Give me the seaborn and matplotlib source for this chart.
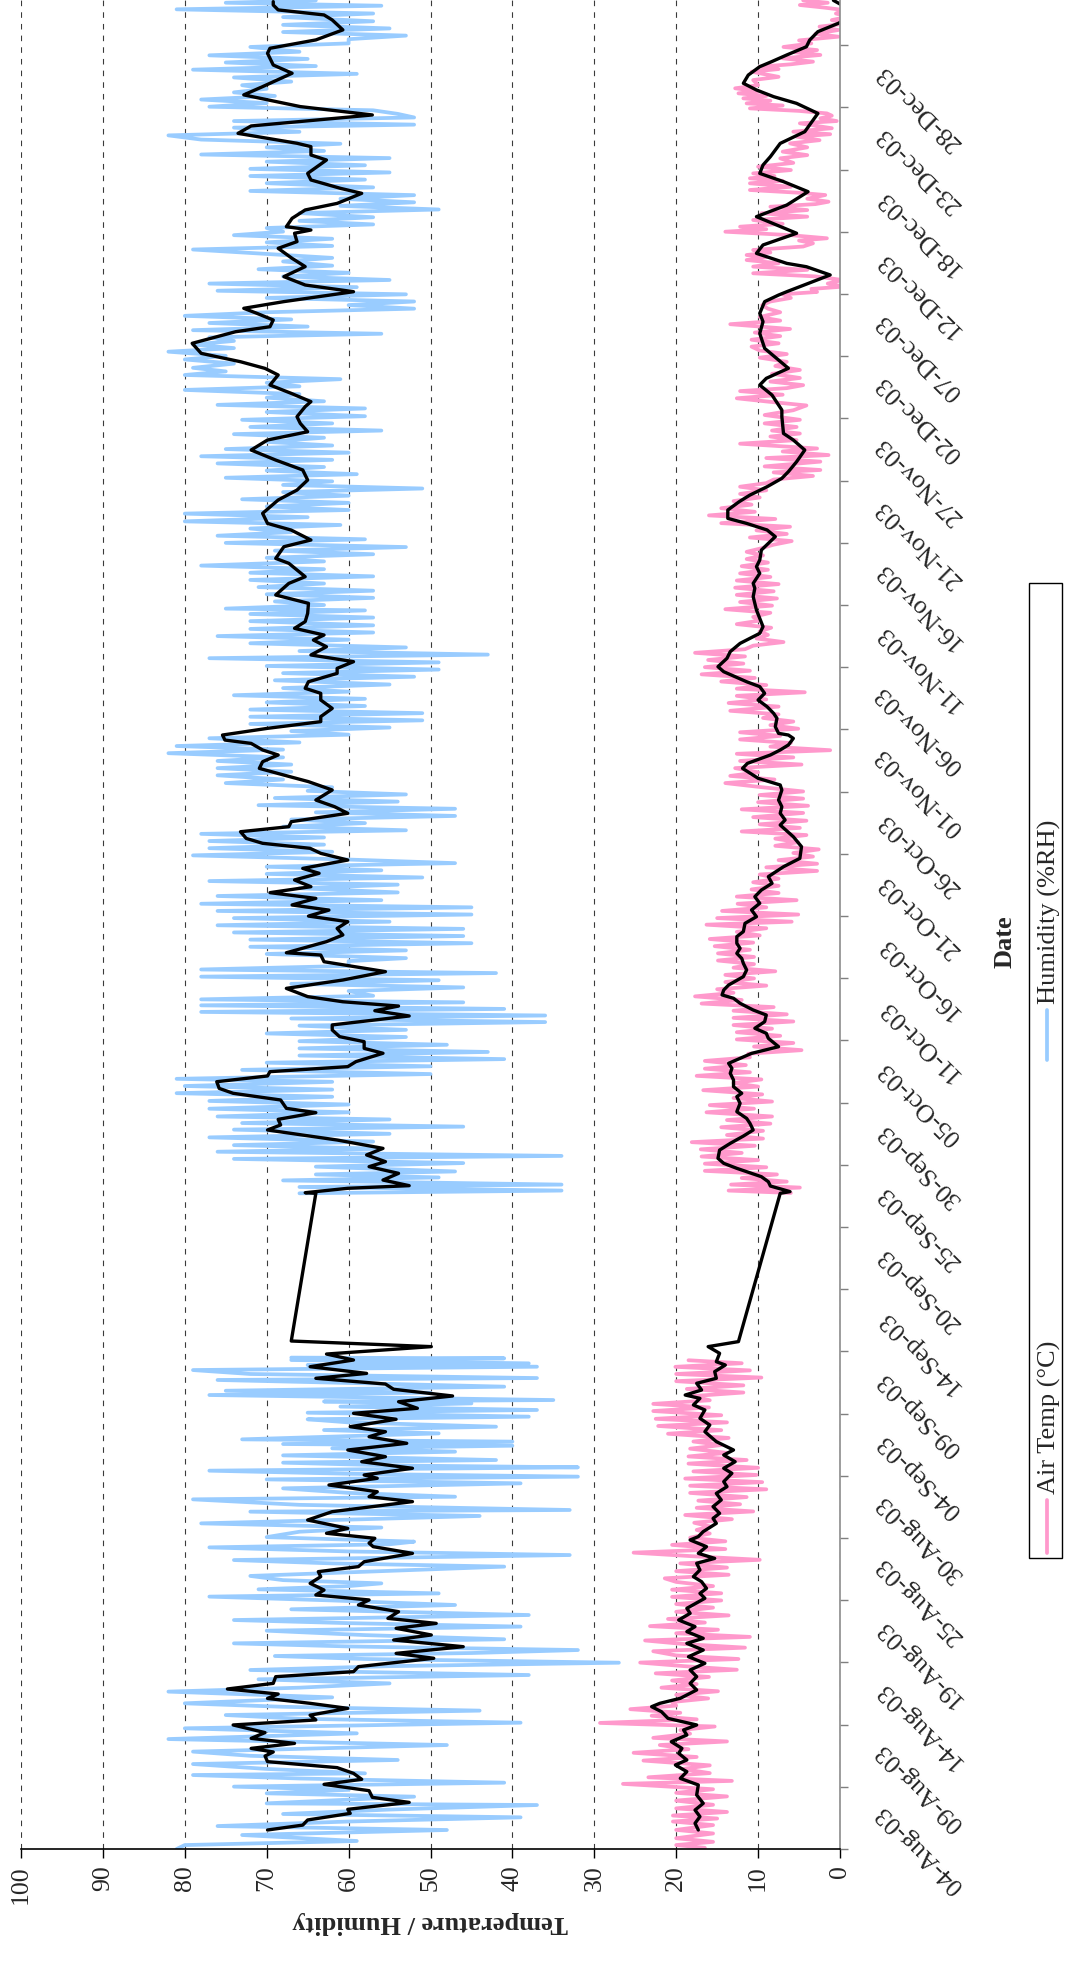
import numpy as np
import pandas as pd
import matplotlib
matplotlib.use("Agg")
import matplotlib.pyplot as plt
import seaborn as sns
from matplotlib.lines import Line2D
from matplotlib.patches import Rectangle

# ---------------------------------------------------------------------------
# Logger readings, (day since start of record, value).
# Record starts 04-Aug-03; the logger was off between about day 41 and day 55.
# ---------------------------------------------------------------------------
hum_before = [
    (0.0, 81), (0.33, 80), (0.67, 59), (1.17, 73), (1.59, 48), (1.92, 76), (2.3, 60), (2.65, 39),
    (2.93, 68), (3.3, 55), (3.68, 37), (3.82, 70), (4.38, 52), (4.66, 70), (4.95, 60), (5.22, 74),
    (5.55, 41), (5.9, 66), (6.19, 79), (6.33, 58), (6.7, 70), (7.11, 79), (7.45, 54), (7.8, 72),
    (8.15, 79), (8.7, 48), (9.2, 82), (9.68, 59), (10.1, 80), (10.57, 39), (10.9, 66), (11.21, 75),
    (11.58, 44), (11.9, 68), (12.19, 80), (12.69, 62), (13.17, 82), (13.5, 66), (13.86, 55),
    (14.2, 71), (14.56, 38), (14.98, 72), (15.3, 55), (15.59, 27), (15.9, 58), (16.15, 69),
    (16.4, 45), (16.65, 32), (16.95, 60), (17.21, 74), (17.55, 41), (17.9, 58), (18.27, 70),
    (18.61, 39), (18.9, 60), (19.16, 74), (19.58, 38), (20.06, 67), (20.42, 47), (20.8, 62),
    (21.12, 77), (21.39, 49), (21.73, 71), (22.0, 60), (22.23, 56), (22.5, 68), (22.85, 72),
    (23.2, 58), (23.63, 41), (23.9, 62), (24.18, 74), (24.6, 33), (24.9, 60), (25.24, 77),
    (25.5, 55), (25.72, 52), (26.1, 70), (26.55, 66), (26.9, 56), (27.25, 78), (27.6, 58),
    (27.87, 44), (28.23, 72), (28.37, 33), (28.8, 66), (29.26, 79), (29.48, 47), (29.8, 60),
    (30.18, 68), (30.6, 39), (30.93, 70), (31.16, 32), (31.4, 60), (31.66, 77), (31.94, 32),
    (32.1, 55), (32.33, 68), (32.55, 42), (32.94, 68), (33.25, 47), (33.53, 62), (33.75, 40),
    (33.89, 68), (34.09, 40), (34.28, 73), (34.78, 49), (35.06, 63), (35.34, 42), (35.7, 60),
    (35.96, 65), (36.18, 38), (36.51, 65), (36.74, 37), (37.02, 61), (37.29, 45), (37.45, 63),
    (37.57, 35), (37.99, 77), (38.19, 50), (38.35, 75), (38.69, 41), (39.0, 60), (39.25, 76),
    (39.41, 37), (39.75, 72), (40.08, 79), (40.36, 37), (40.5, 65), (40.64, 38), (40.92, 67),
    (41.06, 41), (41.12, 67),
]

hum_after = [
    (54.87, 66), (55.1, 34), (55.4, 66), (55.6, 34), (55.95, 68), (56.2, 49), (56.45, 64),
    (56.7, 47), (57.1, 64), (57.4, 46), (57.75, 74), (58.0, 34), (58.35, 76), (58.6, 56),
    (58.9, 74), (59.2, 57), (59.55, 77), (59.85, 55), (60.2, 74), (60.45, 46), (60.75, 73),
    (61.05, 55), (61.3, 76), (61.65, 60), (61.95, 77), (62.3, 60), (62.6, 77), (62.95, 62),
    (63.25, 81), (63.55, 62), (63.85, 80), (64.2, 62), (64.45, 81), (64.85, 50), (65.2, 73),
    (65.5, 50), (65.8, 70), (66.1, 41), (66.4, 66), (66.7, 43), (67.0, 66), (67.3, 48),
    (67.6, 66), (67.95, 53), (68.25, 70), (68.55, 53), (68.9, 66), (69.2, 36), (69.5, 67),
    (69.75, 36), (70.05, 78), (70.3, 41), (70.6, 78), (70.85, 46), (71.1, 78), (71.4, 57),
    (71.8, 60), (72.1, 46), (72.4, 67), (72.7, 49), (73.0, 78), (73.3, 42), (73.6, 78),
    (73.9, 60), (74.3, 60), (74.55, 53), (74.9, 70), (75.2, 53), (75.5, 72), (75.8, 45),
    (76.1, 72), (76.4, 46), (76.7, 74), (77.0, 46), (77.3, 76), (77.6, 55),
    (77.9, 74), (78.2, 45), (78.5, 76), (78.8, 45), (79.1, 78), (79.4, 56), (79.75, 76),
    (80.05, 54), (80.4, 66), (80.7, 54), (81.0, 77), (81.3, 51), (81.6, 70), (81.9, 56),
    (82.2, 70), (82.5, 47), (82.8, 60), (83.15, 79), (83.45, 62), (83.75, 77), (84.05, 63),
    (84.35, 77), (84.65, 63), (84.95, 78), (85.25, 53), (85.55, 68), (85.85, 58), (86.15, 67),
    (86.45, 47), (86.75, 64), (87.05, 47), (87.35, 71), (87.65, 54), (87.95, 69), (88.25, 53),
    (88.55, 65), (88.85, 62), (89.2, 75), (89.5, 68), (89.85, 76), (90.15, 67), (90.45, 76),
    (90.75, 67), (91.05, 76), (91.35, 68), (91.7, 82), (92.0, 68), (92.3, 81), (92.6, 66),
    (92.95, 77), (93.25, 60), (93.55, 67), (93.85, 55), (94.15, 72), (94.45, 51), (94.75, 72),
    (95.05, 51), (95.35, 72), (95.65, 58), (95.95, 70), (96.25, 58), (96.55, 74), (96.85, 60),
    (97.15, 68), (97.45, 55), (97.8, 69), (98.1, 52), (98.4, 68), (98.7, 49), (99.0, 70),
    (99.3, 49), (99.65, 77), (99.95, 43), (100.25, 66), (100.55, 53), (100.9, 72), (101.2, 60),
    (101.5, 76), (101.8, 57), (102.1, 72), (102.4, 57), (102.75, 72), (103.05, 57), (103.35, 72),
    (103.65, 58),
    (103.8, 75), (104.1, 63), (104.4, 69), (104.7, 57), (105.0, 70), (105.3, 57), (105.6, 71),
    (105.9, 63), (106.2, 72), (106.5, 57), (106.8, 72), (107.1, 63), (107.4, 78), (107.75, 63),
    (108.05, 70), (108.35, 57), (108.65, 69), (108.95, 53), (109.3, 75), (109.6, 58), (109.9, 76),
    (110.2, 67), (110.5, 72), (110.8, 61), (111.1, 80), (111.45, 65), (111.75, 80), (112.05, 60),
    (112.35, 70), (112.65, 60), (112.95, 73), (113.25, 60), (113.55, 68), (113.85, 51),
    (114.15, 68), (114.45, 62), (114.75, 75), (115.05, 59), (115.35, 70), (115.65, 63),
    (115.95, 76), (116.25, 62), (116.55, 78), (116.85, 60), (117.15, 75), (117.45, 62),
    (117.75, 70), (118.1, 63), (118.4, 74), (118.7, 56), (119.0, 72), (119.3, 62), (119.6, 73),
    (119.9, 58), (120.25, 70), (120.55, 58), (120.85, 76), (121.15, 63), (121.45, 70),
    (121.75, 66), (122.1, 80), (122.4, 66), (122.7, 70), (123.0, 61), (123.35, 80), (123.65, 75),
    (123.95, 79), (124.3, 74), (124.65, 80), (124.95, 75), (125.3, 82), (125.6, 74), (125.9, 79),
    (126.2, 74), (126.5, 77), (126.8, 56), (127.1, 79), (127.4, 65), (127.7, 77), (128.0, 67),
    (128.3, 80), (128.6, 70), (128.9, 52), (129.2, 60), (129.5, 52),
    (129.8, 70), (130.1, 53), (130.4, 76), (130.7, 59), (131.0, 77), (131.3, 55), (131.6, 68),
    (131.9, 60), (132.2, 71), (132.5, 62), (132.85, 68), (133.15, 62), (133.85, 79), (134.15, 62),
    (134.45, 70), (134.75, 62), (135.05, 74), (135.35, 68), (135.65, 70), (135.95, 57),
    (136.25, 66), (136.55, 57), (136.9, 66), (137.2, 49), (137.5, 61), (137.8, 52), (138.1, 61),
    (138.4, 52), (138.75, 72), (139.05, 57), (139.4, 70), (139.7, 58), (140.0, 72), (140.3, 55),
    (140.6, 72), (140.9, 58), (141.2, 70), (141.5, 55), (141.8, 78), (142.1, 63), (142.4, 70),
    (142.7, 61), (143.05, 78), (143.4, 82), (143.7, 66), (144.05, 74), (144.3, 52), (144.6, 74),
    (144.9, 52), (145.2, 54), (145.5, 57), (145.8, 77), (146.1, 70), (146.4, 78), (146.7, 69),
    (147.0, 74), (147.3, 70), (147.6, 73), (147.9, 67), (148.25, 74), (148.55, 59), (148.9, 79),
    (149.2, 64), (149.5, 75), (149.8, 65), (150.1, 77), (150.4, 66), (150.8, 72), (151.1, 60),
    (151.45, 60), (151.75, 53), (152.05, 68), (152.35, 55), (152.65, 68), (152.95, 57),
    (153.3, 68), (153.6, 57), (153.95, 81), (154.25, 56), (154.5, 75), (154.7, 64),
]

temp_before = [
    (0.1, 16.5), (0.33, 20), (0.6, 15.5), (0.9, 20), (1.3, 15.5), (1.6, 20), (2.0, 15.5),
    (2.3, 20.4), (2.55, 15), (2.8, 20.4), (3.1, 13.8), (3.4, 20), (3.7, 15.5), (4.05, 20),
    (4.4, 13.8), (4.7, 20), (5.0, 15.5), (5.45, 26.5), (5.7, 13.2), (6.0, 23.4), (6.35, 15.9),
    (6.7, 19.2), (7.0, 15.9), (7.4, 24), (7.7, 17.5), (8.05, 25.2), (8.35, 18.5), (8.7, 22),
    (9.0, 13.8), (9.3, 22.8), (9.65, 18.3), (9.95, 19.5), (10.25, 15.3), (10.55, 29.3),
    (10.85, 17.5), (11.15, 23), (11.4, 19.5), (11.7, 25.6), (12.0, 20), (12.3, 20.5),
    (12.6, 16.1), (12.9, 20), (13.2, 14.9), (13.5, 21.8), (13.8, 17.5), (14.1, 20.5), (14.4, 16),
    (14.7, 22.5), (15.0, 12.6), (15.3, 19), (15.6, 24.4), (15.9, 12.4), (16.2, 20), (16.55, 22.8),
    (16.85, 11.6), (17.15, 19), (17.45, 23.8), (17.75, 11), (18.05, 20), (18.35, 14.9),
    (18.65, 23.2), (18.95, 16.5), (19.25, 21), (19.55, 13.6), (19.85, 20), (20.2, 15.5),
    (20.5, 20), (20.8, 14.5), (21.1, 20.5), (21.4, 14.5), (21.7, 20.5), (22.0, 15.5),
    (22.35, 20), (22.65, 21.4), (22.95, 13.6), (23.25, 20), (23.55, 13.8), (23.9, 19.5),
    (24.2, 9.8), (24.5, 18), (24.8, 25.2), (25.1, 14), (25.45, 20.5), (25.75, 14), (26.05, 18.3),
    (26.4, 15.9), (26.7, 17.5), (27.0, 15.9), (27.3, 17.8), (27.6, 13.2), (27.95, 18.9),
    (28.25, 10.6), (28.55, 17.5), (28.85, 12.2), (29.15, 17.3), (29.45, 11.4), (29.8, 18.3),
    (30.1, 9), (30.4, 18.3), (30.7, 9.5), (31.0, 18.9), (31.3, 10.2), (31.6, 17.9), (31.9, 10),
    (32.25, 18.5), (32.55, 11.4), (32.85, 18.5), (33.15, 13.8), (33.5, 18.3), (33.8, 14.5),
    (34.1, 17.9), (34.4, 13.6), (34.75, 21.0), (35.05, 14.5), (35.4, 22.2), (35.7, 13.8),
    (36.0, 22.5), (36.3, 14.5), (36.65, 22.8), (36.95, 16), (37.25, 22.8), (37.55, 15.9),
    (37.9, 18), (38.2, 11.8), (38.5, 18.7), (38.8, 11.8), (39.15, 20), (39.45, 9.6), (39.75, 20),
    (40.05, 11), (40.35, 20.1), (40.65, 12), (40.9, 18.5),
]

temp_after = [
    (54.9, 6), (55.1, 13.6), (55.35, 4.9), (55.6, 13.3), (55.85, 6.5), (56.15, 12), (56.45, 7.7),
    (56.75, 16.5), (57.05, 9), (57.35, 16.5), (57.65, 10), (57.95, 16.9), (58.25, 12),
    (58.55, 17), (58.85, 10.4), (59.15, 18.1), (59.45, 9.4), (59.75, 13.8), (60.1, 9.4),
    (60.4, 14.5), (60.7, 8.5), (61.0, 13.8), (61.3, 8.3), (61.65, 16.3), (61.95, 10.5),
    (62.25, 15.9), (62.55, 8.3), (62.85, 13), (63.15, 9.5), (63.5, 16.7), (63.8, 10), (64.1, 13),
    (64.4, 9.6), (64.7, 17.5), (65.0, 11), (65.3, 16.5), (65.6, 11.5), (65.95, 16.5), (66.25, 11),
    (66.55, 11.2), (66.85, 4.7), (67.15, 10.5), (67.45, 5.7), (67.75, 12.6), (68.05, 7.3),
    (68.35, 12.6), (68.65, 8.3), (68.95, 13), (69.25, 5.7), (69.55, 13), (69.85, 6.5), (70.15, 13),
    (70.45, 8.1), (70.75, 16.9), (71.05, 12), (71.35, 17.7), (71.65, 13), (71.95, 15), (72.25, 9),
    (72.55, 14), (72.85, 10.5), (73.15, 14), (73.45, 7.9), (73.75, 13), (74.05, 10.5),
    (74.35, 14.9), (74.65, 10.5), (74.95, 14.9), (75.25, 11), (75.55, 15.3), (75.85, 10.6),
    (76.15, 15.9), (76.45, 9.8), (76.75, 12.6), (77.05, 9),
    (77.35, 16.3), (77.6, 5.9), (77.9, 15), (78.2, 5.1), (78.5, 14.4), (78.8, 9), (79.1, 12.5),
    (79.4, 5.3), (79.7, 12.6), (80.0, 7.5), (80.3, 10.8), (80.6, 7.5), (80.9, 10.6), (81.2, 7.5),
    (81.55, 9.8), (81.85, 2.8), (82.15, 9), (82.45, 2.8), (82.75, 7.5), (83.05, 3.3),
    (83.35, 5.7), (83.65, 2.6), (83.95, 7.9), (84.25, 5.1), (84.55, 7.9), (84.85, 4.1),
    (85.15, 12), (85.45, 4.9), (85.75, 9.8), (86.05, 4.1), (86.35, 10.6), (86.7, 4.5), (87.0, 12),
    (87.3, 3.9), (87.6, 10), (87.9, 4.5), (88.2, 9.8), (88.5, 4.5), (88.85, 9.5), (89.2, 14),
    (89.5, 8), (89.8, 13.4), (90.1, 10), (90.45, 12.8), (90.75, 4.7), (91.05, 12.2),
    (91.35, 5.7), (91.65, 12.6), (91.95, 1.2), (92.25, 8.5), (92.55, 6), (92.85, 12.2),
    (93.15, 7.3), (93.45, 12.2), (93.75, 5.1), (94.05, 8.5), (94.35, 5.7), (94.65, 9.4),
    (94.95, 7.5), (95.25, 13.4), (95.6, 7.5), (95.9, 13.6), (96.2, 9), (96.5, 12.6), (96.8, 4.3),
    (97.1, 12.6), (97.4, 9), (97.7, 14.5), (98.0, 10.4), (98.3, 16.9), (98.6, 11), (98.9, 16.5),
    (99.2, 11.8), (99.5, 16.1), (99.8, 11.6), (100.1, 17.7), (100.4, 11.6), (100.7, 10.6),
    (101.0, 6.9), (101.3, 10.2), (101.6, 8.8), (101.9, 9.8), (102.2, 8.4), (102.5, 12.6),
    (102.8, 9.8), (103.1, 10.6), (103.45, 8.5), (103.75, 14), (104.05, 8.3), (104.35, 12.2),
    (104.65, 7.7), (104.95, 12.6), (105.25, 8.1), (105.55, 12.8), (105.85, 7.5), (106.15, 12.6),
    (106.45, 8.5), (106.75, 12.2), (107.05, 8.8), (107.35, 12), (107.65, 8.8), (107.95, 11.4),
    (108.25, 9.4), (108.55, 11.4), (108.85, 9.6), (109.15, 8.1), (109.45, 5.9), (109.75, 11),
    (110.05, 6.5), (110.35, 10.2), (110.65, 6.1), (110.95, 14.5), (111.3, 7.9), (111.6, 16),
    (111.9, 10.4), (112.2, 14.5), (112.5, 10.8), (112.8, 13), (113.1, 9.8), (113.4, 12.2),
    (113.7, 9), (114.0, 12.2), (114.3, 9), (114.6, 8.1), (114.9, 3.3), (115.2, 8.1), (115.4, 2.4),
    (115.7, 9.2), (116.1, 2.4), (116.4, 9), (116.65, 1.4), (116.95, 7), (117.2, 2.8),
    (117.6, 12.2), (117.9, 5.3), (118.2, 8.5), (118.45, 4.9), (118.7, 8.3), (119.0, 5.3),
    (119.3, 9.2), (119.6, 4.9), (120.0, 9.2), (120.4, 5.7), (120.8, 4.1), (121.1, 8.5),
    (121.4, 12.6), (121.7, 7), (122.0, 12.2), (122.25, 6.5), (122.5, 4.5), (122.8, 8.5),
    (123.1, 4.9), (123.45, 8.3), (123.77, 4.9), (124.1, 7.9), (124.45, 6.5), (124.8, 9.8),
    (125.1, 6.5), (125.4, 9.8), (125.72, 10.8), (126.0, 7.5), (126.3, 10.8), (126.6, 7.3),
    (126.9, 10.4), (127.2, 6.1), (127.6, 13.4), (127.9, 7.3), (128.2, 9.8), (128.6, 7.3),
    (128.9, 8.8), (129.2, 9.5), (129.5, 8.5), (129.8, 6), (130.1, 7), (130.3, 2.8),
    (130.55, 3.5), (130.75, -0.5), (131.0, 1.5), (131.3, -0.3), (131.6, 3), (131.86, 10.6),
    (132.15, 4), (132.42, 10.6), (132.7, 7.5), (132.97, 11.4), (133.2, 9), (133.39, 11.4),
    (133.6, 8.5), (133.81, 10.6), (134.1, 4.5), (134.37, 3.3), (134.6, 5), (134.79, 1.6),
    (135.05, 6), (135.34, 14), (135.55, 9), (135.76, 12.2), (136.0, 7), (136.32, 10.6),
    (136.6, 4), (136.88, 9.6), (137.15, 4), (137.43, 8.5), (137.65, 3), (137.85, 1.4),
    (138.1, 4), (138.41, 1.8), (138.6, 5), (138.83, 11), (139.1, 6), (139.39, 11), (139.6, 7),
    (139.81, 11), (140.0, 8), (140.22, 10.6), (140.5, 6), (140.78, 10), (141.1, 5.7),
    (141.48, 7.3), (141.75, 4), (142.04, 7), (142.4, 4), (142.73, 6.1), (143.0, 2.5),
    (143.29, 5.3), (143.5, 1.2), (143.71, 5.7), (144.0, 1), (144.41, 4.9), (144.6, 0.4),
    (144.83, 2.4), (145.05, 1), (145.24, 1.6), (145.45, 5), (145.66, 11), (145.9, 7),
    (146.08, 11.4), (146.3, 8.5), (146.5, 11.8), (146.7, 9), (146.92, 12.4), (147.1, 10),
    (147.34, 12.8), (147.6, 10), (148.03, 10.6), (148.3, 7.5), (148.73, 10.8), (148.95, 7.5),
    (149.15, 9.8), (149.35, 6), (149.57, 3.3), (149.85, 7), (150.13, 2.4), (150.35, 5.5),
    (150.54, 2.8), (150.8, 6.9), (151.1, 3.5), (151.35, 5), (151.66, 0.2), (151.9, 3),
    (152.22, 0.2), (152.5, 2.5), (152.78, -1), (153.05, 1), (153.33, -1), (153.6, 0.5),
    (153.89, -0.5), (154.1, 2), (154.31, 4.9), (154.5, 1.5), (154.7, 4.5),
]

# Moving averages (the straight stretch bridges the logging gap)
hum_avg = [
    (1.59, 69.9), (2.0, 65.6), (2.43, 65.0), (2.98, 59.8), (3.32, 60.1), (3.9, 52.6), (4.32, 57.1),
    (4.88, 57.5), (5.41, 63.0), (5.83, 58.4), (6.33, 59.4), (6.81, 61.4), (7.31, 69.9),
    (7.78, 70.2), (8.12, 69.2), (8.42, 71.9), (8.84, 66.6), (9.26, 71.9), (9.74, 70.2),
    (10.38, 74.1), (10.8, 64.0), (11.2, 64.7), (11.77, 60.1), (12.19, 64.7), (12.6, 69.9),
    (12.97, 68.6), (13.39, 74.8), (13.86, 69.2), (14.42, 68.9), (14.84, 59.4), (15.26, 58.8),
    (15.96, 49.6), (16.37, 54.2), (16.93, 46.0), (17.49, 54.5), (17.91, 49.9), (18.47, 54.2),
    (18.88, 49.3), (19.3, 55.2), (19.86, 53.9), (20.42, 58.8), (20.84, 57.5), (21.26, 64.0),
    (21.67, 63.0), (22.23, 64.7), (22.79, 63.4), (23.21, 63.7), (23.63, 58.8), (24.04, 58.1),
    (24.74, 52.2), (25.3, 57.0), (25.6, 57.5), (26.0, 56.8), (26.42, 62.7), (26.83, 60.1),
    (27.53, 65.0), (28.23, 62.0), (29.07, 52.2), (29.48, 57.5), (29.9, 56.5), (30.46, 62.4),
    (31.02, 56.5), (31.3, 58.1), (31.86, 52.2), (32.41, 58.4), (32.83, 55.5), (33.39, 60.1),
    (33.95, 52.9), (34.5, 57.5), (34.92, 55.5), (35.34, 59.8), (35.96, 54.2), (36.46, 59.4),
    (36.88, 51.6), (37.43, 53.9), (37.91, 47.3), (38.47, 54.5), (38.91, 55.5), (39.39, 64.0),
    (39.8, 57.8), (40.36, 64.7), (40.92, 59.4), (41.42, 62.7), (42.04, 49.9), (42.51, 67.0),
    (54.87, 64.0), (54.92, 65.3), (55.29, 60.1), (55.51, 52.6), (55.98, 55.8), (56.54, 53.9),
    (57.1, 57.5), (57.52, 55.5), (58.08, 57.8), (58.63, 55.8), (59.33, 61.4), (60.17, 69.9),
    (60.59, 68.3), (61.06, 68.6), (61.62, 64.0), (61.98, 67.6), (62.68, 68.3), (63.24, 74.1),
    (63.65, 75.8), (64.21, 76.1), (64.69, 69.9), (65.05, 69.6), (65.47, 60.1), (65.89, 59.1),
    (66.59, 55.8), (67.0, 58.1), (67.56, 58.1), (67.98, 61.1), (68.54, 62.0), (68.96, 62.0),
    (69.71, 52.6), (70.15, 56.8), (70.54, 53.9), (70.9, 60.7), (71.33, 65.0), (72.02, 67.6),
    (72.72, 60.7), (73.42, 55.5), (74.25, 63.0), (74.81, 63.4), (75.0, 67.6), (75.93, 62.7),
    (76.49, 60.7), (77.04, 61.4), (77.6, 60.1), (78.07, 64.9), (78.57, 62.4), (79.0, 66.9),
    (79.55, 64.0), (80.03, 69.6), (80.53, 64.6), (81.09, 66.6), (81.65, 63.6), (82.06, 65.6),
    (82.76, 60.1), (83.32, 63.4), (83.74, 64.7), (84.16, 70.5), (84.57, 72.5), (85.13, 73.2),
    (85.55, 67.3), (85.97, 67.0), (86.67, 60.1), (87.22, 61.7), (87.78, 64.0), (88.62, 62.0),
    (89.32, 64.9), (89.87, 67.9), (90.43, 70.9), (90.99, 70.5), (91.55, 68.6), (91.97, 70.5),
    (92.52, 71.9), (92.8, 75.1), (93.22, 75.4), (93.78, 69.9), (94.34, 63.4), (94.76, 63.4),
    (95.45, 62.0), (96.15, 63.4), (96.71, 63.4), (97.13, 65.3), (97.68, 64.9), (98.38, 61.4),
    (98.8, 61.4), (99.36, 59.4), (99.92, 64.6), (100.61, 62.7), (101.17, 64.3), (101.59, 63.0),
    (102.15, 66.6), (102.71, 65.3), (103.4, 65.0), (104.24, 64.9), (104.94, 68.9),
    (105.91, 67.3), (106.47, 65.3), (107.59, 67.3), (108.0, 68.9), (108.98, 67.9),
    (109.54, 64.6), (110.37, 67.0), (110.93, 69.9), (111.77, 70.5), (112.89, 68.6),
    (113.72, 66.3), (114.56, 65.0), (115.4, 65.6), (116.23, 68.9), (117.07, 71.9),
    (117.91, 69.9), (118.6, 65.0), (119.3, 65.9), (119.86, 66.3), (120.7, 65.3), (121.12, 64.6),
    (121.81, 67.0), (122.51, 69.6), (123.35, 68.6), (123.9, 70.2), (124.46, 73.2),
    (125.16, 78.0), (126.0, 79.1), (126.97, 73.8), (127.39, 69.6), (127.95, 69.2),
    (128.51, 71.2), (128.93, 72.8), (129.49, 67.9), (130.32, 59.4), (130.88, 65.3),
    (131.58, 67.9), (132.42, 65.3), (133.11, 66.9), (133.95, 68.6), (134.51, 66.3),
    (135.21, 66.6), (135.48, 64.6), (135.76, 67.6), (136.46, 66.9), (137.16, 65.3),
    (137.71, 61.4), (138.55, 58.4), (138.97, 61.0), (139.67, 64.6), (140.22, 65.0),
    (141.34, 62.7), (141.76, 64.6), (142.46, 64.6), (142.74, 66.3), (143.57, 73.5),
    (144.19, 71.9), (145.11, 57.1), (145.81, 65.9), (146.79, 72.8), (147.48, 70.5),
    (148.6, 66.9), (149.29, 69.2), (150.27, 69.9), (150.69, 69.6), (151.39, 64.0),
    (152.23, 60.7), (153.06, 62.0), (153.48, 63.0), (153.9, 68.6), (154.31, 69.2), (154.59, 69.2),
]

temp_avg = [
    (1.59, 17.3), (2.15, 17.7), (2.71, 17.1), (3.26, 17.7), (3.82, 16.7), (4.52, 17.5),
    (5.36, 17.3), (5.91, 19.5), (6.47, 18.7), (7.03, 20.1), (7.45, 18.7), (8.01, 19.7),
    (8.42, 19.3), (8.98, 20.6), (9.54, 18.7), (9.96, 19.1), (10.38, 17.5), (10.93, 21.0),
    (11.49, 21.8), (11.91, 23.0), (12.19, 22.0), (12.61, 19.5), (13.31, 17.5), (13.86, 18.3),
    (14.42, 17.5), (14.98, 18.3), (15.54, 16.5), (16.09, 18.5), (16.65, 16.7), (17.21, 18.7),
    (17.63, 16.7), (18.19, 18.7), (18.61, 17.7), (19.16, 19.7), (19.72, 18.3), (20.14, 18.7),
    (20.98, 16.5), (21.39, 17.1), (21.81, 16.3), (22.37, 16.9), (22.79, 17.9), (23.35, 17.1),
    (23.91, 17.5), (24.32, 15.3), (24.74, 17.3), (25.3, 16.3), (25.86, 18.3), (26.14, 17.3),
    (26.56, 16.7), (27.25, 15.1), (27.67, 15.5), (28.09, 14.7), (28.65, 15.5), (29.21, 14.5),
    (29.76, 15.1), (30.32, 13.8), (30.74, 14.2), (31.44, 13.2), (31.86, 14.2), (32.41, 12.8),
    (32.97, 14.2), (33.39, 13.0), (34.09, 15.1), (34.92, 16.5), (35.48, 15.9), (36.04, 17.1),
    (36.74, 16.5), (37.16, 17.9), (37.71, 17.1), (37.99, 18.9), (38.41, 16.9), (38.97, 17.5),
    (39.39, 15.1), (39.95, 15.3), (40.5, 14.0), (40.78, 15.1), (41.48, 14.7), (42.04, 16.1),
    (42.46, 12.4), (54.87, 7.3), (55.01, 6.1), (55.48, 8.5), (55.84, 8.75), (56.26, 9.6),
    (56.96, 12.6), (57.38, 14.2), (57.8, 14.9), (58.49, 14.7), (59.05, 13.4), (59.66, 11.8),
    (60.17, 10.6), (60.73, 11.0), (61.14, 11.4), (61.7, 12.6), (62.4, 12.2), (62.96, 12.6),
    (63.24, 12.0), (63.79, 13.0), (64.35, 13.0), (64.91, 13.4), (65.33, 13.2), (65.75, 13.6),
    (66.58, 10.8), (67.14, 7.5), (67.84, 8.75), (68.26, 9.0), (68.68, 10.4), (69.23, 9.2),
    (69.79, 9.0), (70.21, 10.6), (70.77, 12.2), (71.19, 13.0), (71.47, 14.4), (71.88, 14.2),
    (72.3, 13.6), (73.0, 11.8), (73.56, 11.4), (74.11, 11.8), (74.53, 12.0), (74.95, 12.6),
    (75.37, 12.2), (75.79, 12.6), (76.35, 12.6), (76.77, 11.8), (77.46, 11.6), (78.02, 10.2),
    (78.58, 10.8), (79.14, 9.8), (79.69, 10.4), (80.25, 9.6), (80.81, 8.3), (81.37, 8.75),
    (82.2, 6.9), (82.9, 4.9), (83.88, 4.7), (84.71, 5.7), (85.69, 7.3), (86.11, 6.7),
    (86.67, 7.3), (87.22, 7.1), (87.78, 7.5), (88.62, 7.1), (89.04, 7.3), (89.6, 10.0),
    (90.43, 11.9), (90.85, 11.3), (91.55, 8.5), (91.97, 7.3), (92.39, 6.3), (92.94, 5.7),
    (93.22, 6.3), (93.36, 7.5), (93.92, 7.9), (94.62, 7.7), (95.03, 8.1), (95.59, 8.9),
    (96.15, 10.0), (96.71, 9.2), (97.27, 9.8), (97.68, 11.4), (98.52, 14.2), (98.94, 14.9),
    (99.64, 13.8), (100.2, 13.4), (100.89, 12.2), (101.73, 9.8), (102.29, 9.4), (102.99, 9.8),
    (103.68, 10.2), (104.24, 10.4), (104.8, 10.6), (105.5, 10.4), (105.91, 10.6), (106.75, 9.8),
    (107.31, 10.2), (107.86, 9.8), (108.7, 9.6), (109.82, 7.9), (110.38, 8.9), (110.93, 11.4),
    (111.35, 13.7), (112.05, 13.7), (112.75, 12.3), (113.3, 11.0), (114.0, 8.9), (114.7, 7.1),
    (115.26, 6.3), (116.09, 5.3), (117.07, 4.3), (117.91, 5.7), (118.46, 6.9), (119.86, 7.1),
    (120.42, 7.1), (121.67, 8.3), (122.51, 9.8), (123.07, 9.0), (123.91, 6.3), (125.58, 9.2),
    (126.83, 9.8), (127.81, 9.4), (128.51, 9.8), (129.49, 9.2), (130.04, 7.5), (130.32, 6.5),
    (131.72, 1.2), (132.41, 4.1), (132.69, 6.5), (133.53, 10.2), (134.23, 9.4), (135.21, 5.3),
    (136.6, 10.2), (137.57, 6.5), (138.69, 3.9), (139.53, 6.9), (140.22, 9.8), (140.92, 9.4),
    (141.62, 8.5), (142.73, 7.3), (143.71, 4.3), (145.24, 2.7), (146.08, 5.3), (146.64, 8.1),
    (147.2, 10.2), (147.76, 11.8), (148.45, 11.2), (149.15, 9.8), (149.57, 8.35), (150.13, 6.5),
    (150.82, 4.1), (151.38, 3.7), (152.08, 2.7), (152.78, 0.2), (153.4, -1.5), (154.2, -0.5),
    (154.7, 0.8),
]

date_labels = [
    "04-Aug-03", "09-Aug-03", "14-Aug-03", "19-Aug-03", "25-Aug-03", "30-Aug-03",
    "04-Sep-03", "09-Sep-03", "14-Sep-03", "20-Sep-03", "25-Sep-03", "30-Sep-03",
    "05-Oct-03", "11-Oct-03", "16-Oct-03", "21-Oct-03", "26-Oct-03", "01-Nov-03",
    "06-Nov-03", "11-Nov-03", "16-Nov-03", "21-Nov-03", "27-Nov-03", "02-Dec-03",
    "07-Dec-03", "12-Dec-03", "18-Dec-03", "23-Dec-03", "28-Dec-03",
]
value_ticks = list(range(0, 101, 10))

TICK_STEP_DAYS = 5.205
DAY_SPAN = 154.73
HUM_COLOR = "#99CCFF"
TEMP_COLOR = "#FF99CC"

sns.set_theme(style="white")
plt.rcParams["font.family"] = ["Liberation Serif", "DejaVu Serif"]

W, H = 1065, 1964
fig = plt.figure(figsize=(W / 100, H / 100), dpi=100)
ax = fig.add_axes([21 / W, 115 / H, 819 / W, 1849 / H])


def as_frame(pairs):
    arr = np.asarray(pairs, dtype=float)
    return pd.DataFrame({"day": arr[:, 0], "value": arr[:, 1]})


# value runs along x (reversed), time runs up the y axis
for pairs in (hum_before, hum_after):
    sns.lineplot(data=as_frame(pairs), x="value", y="day", sort=False, estimator=None,
                 color=HUM_COLOR, linewidth=2.7, legend=False, ax=ax)
for pairs in (temp_before, temp_after):
    sns.lineplot(data=as_frame(pairs), x="value", y="day", sort=False, estimator=None,
                 color=TEMP_COLOR, linewidth=2.7, legend=False, ax=ax)
for pairs in (hum_avg, temp_avg):
    sns.lineplot(data=as_frame(pairs), x="value", y="day", sort=False, estimator=None,
                 color="black", linewidth=2.4, legend=False, ax=ax)

ax.set_xlim(100, 0)
ax.set_ylim(0, DAY_SPAN)

# value axis along the bottom
ax.set_xticks(value_ticks)
ax.set_xticklabels([str(v) for v in value_ticks])
ax.tick_params(axis="x", direction="out", length=6.5, width=1.0, color="black",
               pad=5, labelsize=18.5, labelrotation=90, bottom=True)
ax.grid(True, axis="x", color="#3a3a3a", linestyle=(0, (5, 5.5)), linewidth=0.8)
ax.grid(False, axis="y")
ax.set_axisbelow(True)

# date axis along the right edge
date_ticks = [k * TICK_STEP_DAYS for k in range(len(date_labels) + 1)]
ax.set_yticks(date_ticks)
ax.set_yticklabels(date_labels + [""])
ax.yaxis.tick_right()
ax.tick_params(axis="y", direction="out", length=5.8, width=1.0, color="#7f7f7f",
               pad=51, labelsize=18.5, left=False, right=True,
               labelleft=False, labelright=True)
for lab in ax.get_yticklabels():
    lab.set_rotation(135)
    lab.set_rotation_mode("anchor")
    lab.set_horizontalalignment("center")
    lab.set_verticalalignment("center")

for side in ("left", "top"):
    ax.spines[side].set_visible(False)
ax.spines["bottom"].set_color("black")
ax.spines["bottom"].set_linewidth(1.2)
ax.spines["right"].set_color("#8c8c8c")
ax.spines["right"].set_linewidth(1.2)

ax.set_xlabel("Temperature / Humidity", fontsize=19, fontweight="bold", rotation=180)
ax.xaxis.set_label_coords(0.5, -0.040)
ax.xaxis.label.set_verticalalignment("center")

ax.yaxis.set_label_position("right")
ax.set_ylabel("Date", fontsize=19, fontweight="bold", rotation=90)
ax.yaxis.set_label_coords((1005 - 21) / 819, (H - 942 - 115) / 1849)
ax.yaxis.label.set_verticalalignment("center")
ax.yaxis.label.set_horizontalalignment("center")

# legend box, laid out along the rotated page
fx = lambda px: px / W
fy = lambda py: (H - py) / H
fig.add_artist(Rectangle((fx(1029), fy(1558)), fx(1062) - fx(1029), fy(583) - fy(1558),
                         transform=fig.transFigure, facecolor="white", edgecolor="black",
                         linewidth=1.0))
legend_entries = [("Air Temp (°C)", TEMP_COLOR, 1553, 1500, 1494),
                  ("Humidity (%RH)", HUM_COLOR, 1060, 1010, 1004)]
for text, color, y0, y1, ytext in legend_entries:
    fig.add_artist(Line2D([fx(1047), fx(1047)], [fy(y0), fy(y1)], transform=fig.transFigure,
                          color=color, linewidth=2.7))
    fig.text(fx(1049), fy(ytext), text, rotation=90, rotation_mode="anchor",
             ha="left", va="center", fontsize=19)

fig.savefig("out.png", dpi=100)
